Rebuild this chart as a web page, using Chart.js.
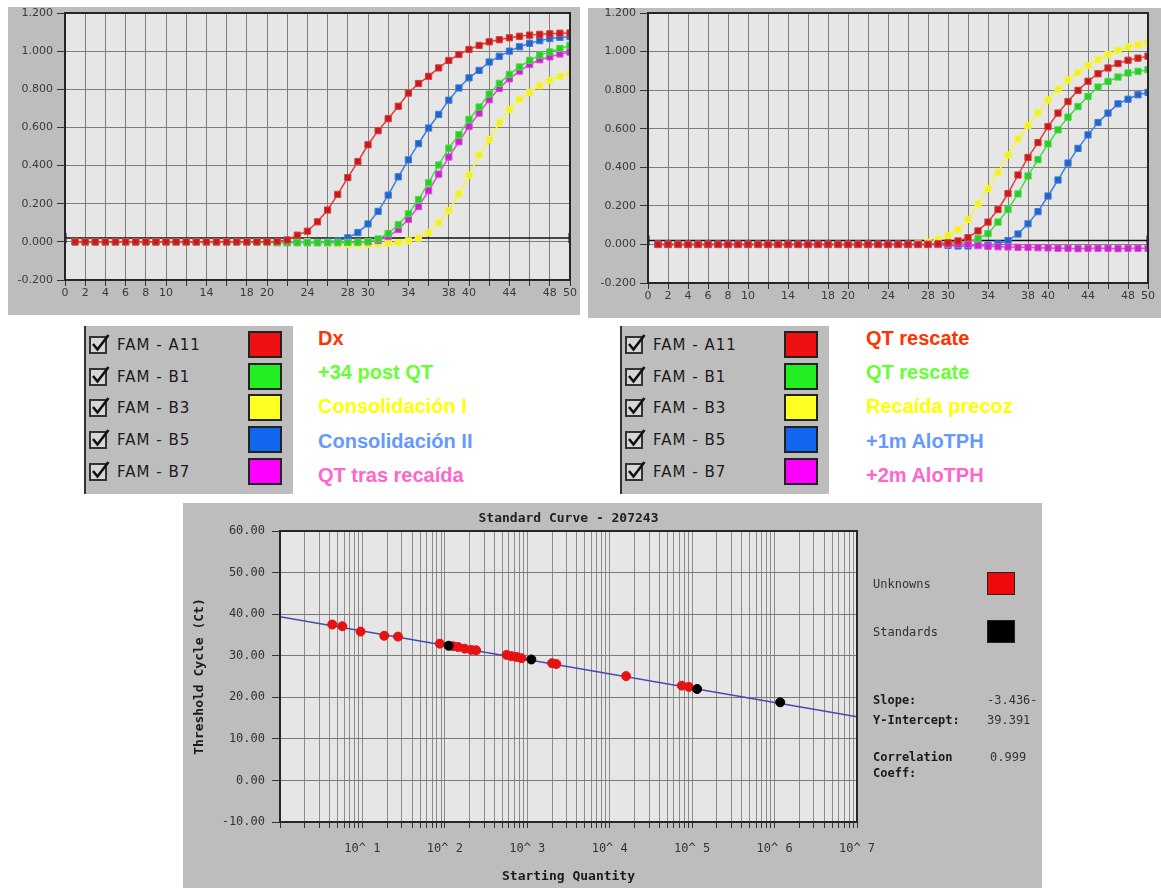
<!DOCTYPE html>
<html>
<head>
<meta charset="utf-8">
<script src="https://cdn.jsdelivr.net/npm/chart.js@4.4.1/dist/chart.umd.min.js"></script>
<style>
  body { margin: 0; width: 1161px; height: 888px; background: #fff; position: relative; overflow: hidden; }
  canvas { position: absolute; }
  .panel { position: absolute; background: #bdbdbd; }
  .well { position: absolute; font: 15px 'DejaVu Sans', sans-serif; letter-spacing: 1px; color: #1a1a1a; line-height: 18px; white-space: nowrap; }
  .swatch { position: absolute; width: 30px; height: 23px; border: 2px solid #222; }
  .tag { position: absolute; font: bold 20px 'Liberation Sans', Arial, sans-serif; line-height: 24px; white-space: nowrap; }
  .side { position: absolute; font: 12px 'DejaVu Sans Mono', monospace; color: #333; line-height: 14px; white-space: nowrap; }
  .side.b { font-weight: bold; color: #1a1a1a; }
</style>
</head>
<body>
<div class="panel" style="left:8px;top:7px;width:572px;height:308px"></div>
<div class="panel" style="left:588px;top:8px;width:573px;height:310px"></div>
<div class="panel" style="left:183px;top:503px;width:859px;height:385px"></div>
<canvas id="amp1" width="572" height="315" style="left:8px;top:0"></canvas>
<canvas id="amp2" width="573" height="318" style="left:588px;top:0"></canvas>
<canvas id="std" width="859" height="385" style="left:183px;top:503px"></canvas>
<div id="legends"></div>
<script>
// ---- data ----
function cycleLabels() {
  let arr = []
  for (let i = 1; i <= 50; i++) {
    arr.push(i)
  }
  return arr
}
let cycles = cycleLabels()
let cycleTicks = [0, 2, 4, 6, 8, 10, 14, 18, 20, 24, 28, 30, 34, 38, 40, 44, 48, 50]
let rfuTicks = [-0.2, 0, 0.2, 0.4, 0.6, 0.8, 1.0, 1.2]

// left plot (cycles 1..50)
let dx = [0, 0, 0, 0, 0, 0, 0, 0, 0, 0,
  0, 0, 0, 0, 0, 0, 0, 0, 0, 0,
  0.002, 0.01, 0.035, 0.056, 0.105, 0.167, 0.249, 0.337, 0.421, 0.509,
  0.583, 0.646, 0.711, 0.78, 0.83, 0.868, 0.912, 0.951, 0.982, 1.009,
  1.03, 1.049, 1.06, 1.07, 1.078, 1.084, 1.088, 1.091, 1.094, 1.095]
let post34 = [0, 0, 0, 0, 0, 0, 0, 0, 0, 0,
  0, 0, 0, 0, 0, 0, 0, 0, 0, -0.003,
  -0.004, -0.004, -0.004, -0.004, -0.004, -0.004, -0.003, -0.003, -0.002, 0.002,
  0.015, 0.044, 0.09, 0.148, 0.222, 0.31, 0.403, 0.491, 0.562, 0.642,
  0.707, 0.775, 0.831, 0.878, 0.917, 0.952, 0.979, 0.996, 1.014, 1.03]
let consol1 = [0, 0, 0, 0, 0, 0, 0, 0, 0, 0,
  0, 0, 0, 0, 0, 0, 0, 0, 0, 0,
  0, 0, 0, 0, -0.005, -0.008, -0.01, -0.012, -0.012, -0.012,
  -0.01, -0.008, -0.004, 0.005, 0.02, 0.05, 0.1, 0.163, 0.252, 0.35,
  0.456, 0.536, 0.624, 0.695, 0.748, 0.784, 0.819, 0.846, 0.867, 0.885]
let consol2 = [0, 0, 0, 0, 0, 0, 0, 0, 0, 0,
  0, 0, 0, 0, 0, 0, 0, 0, 0, 0,
  0, 0, 0, -0.003, -0.003, 0, 0.005, 0.021, 0.049, 0.094,
  0.16, 0.245, 0.341, 0.43, 0.515, 0.597, 0.668, 0.743, 0.807, 0.86,
  0.899, 0.943, 0.973, 1.0, 1.023, 1.041, 1.055, 1.066, 1.072, 1.076]
let qtRelapse = [0, 0, 0, 0, 0, 0, 0, 0, 0, 0,
  0, 0, 0, 0, 0, 0, 0, 0, 0, 0,
  -0.004, -0.004, -0.004, -0.004, -0.004, -0.004, -0.004, -0.003, -0.002, 0.0,
  0.008, 0.028, 0.065, 0.118, 0.185, 0.268, 0.355, 0.445, 0.525, 0.605,
  0.675, 0.745, 0.805, 0.855, 0.895, 0.93, 0.955, 0.97, 0.985, 0.995]
let threshold1 = 0.02

// right plot (cycles 1..50)
let rescueA = [0, 0, 0, 0, 0, 0, 0, 0, 0, 0,
  0, 0, 0, 0, 0, 0, 0, 0, 0, 0,
  0, 0, 0, 0, 0, 0, 0, 0, 0.003, 0.008,
  0.018, 0.035, 0.07, 0.116, 0.181, 0.264, 0.36, 0.451, 0.528, 0.611,
  0.681, 0.741, 0.799, 0.846, 0.885, 0.915, 0.938, 0.955, 0.966, 0.976]
let rescueB = [0, 0, 0, 0, 0, 0, 0, 0, 0, 0,
  0, 0, 0, 0, 0, 0, 0, 0, 0, 0,
  0, 0, 0, 0, 0, 0, 0, 0, 0, 0,
  0.004, 0.012, 0.03, 0.056, 0.116, 0.181, 0.262, 0.355, 0.44, 0.521,
  0.594, 0.66, 0.715, 0.767, 0.816, 0.845, 0.868, 0.889, 0.897, 0.906]
let earlyRelapse = [0, 0, 0, 0, 0, 0, 0, 0, 0, 0,
  0, 0, 0, 0, 0, 0, 0, 0, 0, 0,
  0, 0, 0, 0, 0, 0, 0.005, 0.012, 0.025, 0.047,
  0.076, 0.13, 0.21, 0.29, 0.374, 0.464, 0.548, 0.618, 0.683, 0.749,
  0.804, 0.853, 0.892, 0.927, 0.958, 0.984, 1.007, 1.024, 1.036, 1.045]
let alo1m = [0, 0, 0, 0, 0, 0, 0, 0, 0, 0,
  0, 0, 0, 0, 0, 0, 0, 0, 0, 0,
  0, 0, 0, 0, 0, 0, 0, 0, 0, -0.005,
  -0.008, -0.008, -0.006, -0.004, 0.002, 0.02, 0.054, 0.107, 0.17, 0.251,
  0.334, 0.422, 0.498, 0.568, 0.632, 0.681, 0.729, 0.753, 0.776, 0.788]
let alo2m = [0, 0, 0, 0, 0, 0, 0, 0, 0, 0,
  0, 0, 0, 0, 0, 0, 0, 0, 0, 0,
  0, 0, 0, 0, 0, 0, 0, 0, 0, 0,
  0, 0, -0.005, -0.01, -0.012, -0.013, -0.015, -0.015, -0.017, -0.018,
  -0.02, -0.02, -0.022, -0.02, -0.02, -0.02, -0.022, -0.02, -0.02, -0.02]
let threshold2 = 0.02

// standard curve
let unknownQty = [4.3, 5.7, 9.5, 18.4, 27, 87, 125, 145, 174, 209, 240, 560, 640, 740, 850, 2000, 2250, 15800, 75000, 91000]
let unknownCt = [37.5, 37.1, 35.8, 34.8, 34.6, 32.9, 32.3, 32.1, 31.7, 31.4, 31.3, 30.2, 29.9, 29.7, 29.4, 28.2, 28.0, 25.1, 22.8, 22.5]
let standardQty = [111, 1120, 115000, 1170000]
let standardCt = [32.4, 29.1, 22.0, 18.8]
let fitQty = [1, 10000000]
let fitCt = [39.39, 15.34]
let ctTicks = [-10, 0, 10, 20, 30, 40, 50, 60]
let decadeValues = [10, 100, 1000, 10000, 100000, 1000000, 10000000]
let decadeLabels = ['10^ 1', '10^ 2', '10^ 3', '10^ 4', '10^ 5', '10^ 6', '10^ 7']
let chartTitle = 'Standard Curve - 207243'

// legends
let wells = ['FAM - A11', 'FAM - B1', 'FAM - B3', 'FAM - B5', 'FAM - B7']
let wellColors = ['#ee1111', '#22ee22', '#ffff22', '#1166ee', '#ff00ff']
let tags1 = ['Dx', '+34 post QT', 'Consolidación I', 'Consolidación II', 'QT tras recaída']
let tags2 = ['QT rescate', 'QT rescate', 'Recaída precoz', '+1m AloTPH', '+2m AloTPH']
let tagColors = ['#ff3300', '#66ff33', '#ffff00', '#6699ff', '#ff66cc']
let stats = [['Slope:', '-3.436-'], ['Y-Intercept:', '39.391'], ['Correlation', '0.999']]

// ---- helpers ----
let red = { line: '#e23b3b', point: '#c41c1c' }
let green = { line: '#44dd44', point: '#2ccb2c' }
let yellow = { line: '#f6f640', point: '#efef2a' }
let blue = { line: '#3d80e0', point: '#2265c8' }
let magenta = { line: '#e048e0', point: '#c824c8' }

function series(label, values, c) {
  return {
    label: label,
    data: values.map((v, i) => ({ x: cycles[i], y: v })),
    borderColor: c.line,
    backgroundColor: c.point,
    pointBackgroundColor: c.point,
    pointBorderColor: c.line,
    pointStyle: 'rect',
    pointRadius: 4.4,
    pointBorderWidth: 1,
    borderWidth: 1.5,
  }
}

function thresholdLine(t) {
  return {
    label: 'threshold',
    data: [{ x: 0, y: t }, { x: 50, y: t }],
    borderColor: '#111',
    borderWidth: 1.5,
    pointStyle: 'line',
    pointRotation: 90,
    pointRadius: 5,
    pointBorderWidth: 3,
    pointBorderColor: '#111',
  }
}

let plotFrame = {
  id: 'plotFrame',
  beforeDraw(chart) {
    let a = chart.chartArea
    let ctx = chart.ctx
    ctx.save()
    ctx.fillStyle = '#e6e6e6'
    ctx.fillRect(a.left, a.top, a.right - a.left, a.bottom - a.top)
    ctx.restore()
  },
  afterDraw(chart) {
    let a = chart.chartArea
    let ctx = chart.ctx
    ctx.save()
    ctx.strokeStyle = '#262626'
    ctx.lineWidth = 2
    ctx.strokeRect(a.left, a.top, a.right - a.left, a.bottom - a.top)
    ctx.restore()
  },
}

let tickFont = { family: 'DejaVu Sans', size: 11 }

function ampConfig(sets, yWidth, padRight) {
  return {
    type: 'line',
    data: { datasets: sets },
    options: {
      responsive: false,
      animation: false,
      devicePixelRatio: 1,
      layout: { padding: { top: 13, right: padRight, left: 0, bottom: 0 } },
      plugins: { legend: { display: false }, tooltip: { enabled: false } },
      scales: {
        x: {
          type: 'linear',
          min: 0,
          max: 50,
          afterBuildTicks: (s) => {
            let t = []
            for (let v = 0; v <= 50; v += 2) t.push({ value: v })
            s.ticks = t
          },
          afterFit: (s) => { s.height = 35 },
          ticks: {
            autoSkip: false,
            maxRotation: 0,
            padding: 1,
            color: '#3a3a3a',
            font: tickFont,
            callback: (v) => (cycleTicks.includes(v) ? String(v) : ''),
          },
          grid: { color: '#7e7e7e', tickColor: '#333', tickLength: 6 },
          border: { color: '#262626', width: 2 },
        },
        y: {
          min: -0.2,
          max: 1.2,
          afterBuildTicks: (s) => { s.ticks = rfuTicks.map((v) => ({ value: v })) },
          afterFit: (s) => { s.width = yWidth },
          ticks: {
            padding: 4,
            color: '#3a3a3a',
            font: tickFont,
            callback: (v) => v.toFixed(3),
          },
          grid: { color: '#7e7e7e', tickColor: '#333', tickLength: 8 },
          border: { color: '#262626', width: 2 },
        },
      },
    },
    plugins: [plotFrame],
  }
}

new Chart(document.getElementById('amp1'), ampConfig([
  series('Dx', dx, red),
  series('+34 post QT', post34, green),
  series('QT tras recaída', qtRelapse, magenta),
  series('Consolidación II', consol2, blue),
  series('Consolidación I', consol1, yellow),
  thresholdLine(threshold1),
], 57, 10))

new Chart(document.getElementById('amp2'), ampConfig([
  series('QT rescate', rescueA, red),
  series('+2m AloTPH', alo2m, magenta),
  series('+1m AloTPH', alo1m, blue),
  series('QT rescate', rescueB, green),
  series('Recaída precoz', earlyRelapse, yellow),
  thresholdLine(threshold2),
], 60, 13))

// ---- standard curve ----
let stdTitle = {
  id: 'stdTitle',
  afterDraw(chart) {
    let a = chart.chartArea
    let ctx = chart.ctx
    ctx.save()
    ctx.font = "bold 13px 'DejaVu Sans Mono'"
    ctx.fillStyle = '#222'
    ctx.textAlign = 'center'
    ctx.textBaseline = 'middle'
    ctx.fillText(chartTitle, (a.left + a.right) / 2, 16)
    ctx.restore()
  },
}

let monoFont = { family: 'DejaVu Sans Mono', size: 12 }

new Chart(document.getElementById('std'), {
  type: 'scatter',
  data: {
    datasets: [
      {
        label: 'Standards',
        data: standardQty.map((q, i) => ({ x: q, y: standardCt[i] })),
        backgroundColor: '#000',
        borderColor: '#000',
        pointRadius: 4.5,
      },
      {
        label: 'Unknowns',
        data: unknownQty.map((q, i) => ({ x: q, y: unknownCt[i] })),
        backgroundColor: '#e51212',
        borderColor: '#e51212',
        pointRadius: 4.5,
      },
      {
        label: 'fit',
        data: fitQty.map((q, i) => ({ x: q, y: fitCt[i] })),
        showLine: true,
        borderColor: '#4848b4',
        borderWidth: 1.5,
        pointRadius: 0,
      },
    ],
  },
  options: {
    responsive: false,
    animation: false,
    devicePixelRatio: 1,
    layout: { padding: { top: 28, right: 185, left: 0, bottom: 0 } },
    plugins: { legend: { display: false }, tooltip: { enabled: false } },
    scales: {
      x: {
        type: 'logarithmic',
        min: 1,
        max: 10000000,
        afterBuildTicks: (s) => {
          let t = []
          for (let e = 0; e < 7; e++) {
            for (let m = 1; m <= 9; m++) t.push({ value: m * Math.pow(10, e) })
          }
          t.push({ value: 10000000 })
          s.ticks = t
        },
        afterFit: (s) => { s.height = 66 },
        ticks: {
          autoSkip: false,
          maxRotation: 0,
          padding: 14,
          color: '#333',
          font: monoFont,
          callback: (v) => {
            let k = decadeValues.indexOf(v)
            return k >= 0 ? decadeLabels[k] : ''
          },
        },
        grid: { color: '#8c8c8c', tickColor: '#333', tickLength: 6 },
        border: { color: '#111', width: 2 },
        title: {
          display: true,
          text: 'Starting Quantity',
          color: '#1a1a1a',
          font: { family: 'DejaVu Sans Mono', size: 13, weight: 'bold' },
          padding: { top: 0, bottom: 4 },
        },
      },
      y: {
        min: -10,
        max: 60,
        afterBuildTicks: (s) => { s.ticks = ctTicks.map((v) => ({ value: v })) },
        afterFit: (s) => { s.width = 97 },
        ticks: {
          padding: 7,
          color: '#333',
          font: monoFont,
          callback: (v) => v.toFixed(2),
        },
        grid: { color: '#7a7a7a', tickColor: '#333', tickLength: 8 },
        border: { color: '#111', width: 2 },
        title: {
          display: true,
          text: 'Threshold Cycle (Ct)',
          color: '#1a1a1a',
          font: { family: 'DejaVu Sans Mono', size: 13, weight: 'bold' },
          padding: { top: 9, bottom: 0 },
        },
      },
    },
  },
  plugins: [plotFrame, stdTitle],
})

// ---- html legends ----
let host = document.getElementById('legends')
function add(cls, css, text) {
  let d = document.createElement('div')
  d.className = cls
  d.style.cssText = css
  if (text !== undefined) d.textContent = text
  host.appendChild(d)
  return d
}
let checkSvg = '<svg width="22" height="22" viewBox="0 0 22 22"><rect x="1" y="4" width="16" height="16" fill="#d6d6d6" stroke="#333" stroke-width="2"/><path d="M4 11 L8.5 16.5 L19.5 2" fill="none" stroke="#111" stroke-width="2.6"/></svg>'

function wellPanel(left, tags, tagLeft) {
  add('panel', 'left:' + left + 'px;top:326px;width:209px;height:168px;border-left:2px solid #333;box-sizing:border-box')
  wells.forEach((w, i) => {
    let y = 345 + i * 31.7
    let cb = add('', 'position:absolute;left:' + (left + 5) + 'px;top:' + (y - 12) + 'px;width:22px;height:22px')
    cb.innerHTML = checkSvg
    add('well', 'left:' + (left + 33) + 'px;top:' + (y - 9) + 'px', w)
    add('swatch', 'left:' + (left + 164) + 'px;top:' + (y - 14) + 'px;background:' + wellColors[i])
  })
  tags.forEach((t, i) => {
    add('tag', 'left:' + tagLeft + 'px;top:' + (338 + i * 34.2 - 12) + 'px;color:' + tagColors[i], t)
  })
}
wellPanel(84, tags1, 318)
wellPanel(620, tags2, 866)

add('side', 'left:873px;top:577px', 'Unknowns')
add('swatch', 'left:987px;top:572px;width:26px;height:21px;border-width:1px;background:#ee0a0a')
add('side', 'left:873px;top:625px', 'Standards')
add('swatch', 'left:987px;top:620px;width:26px;height:21px;border-width:1px;background:#000')
add('side b', 'left:873px;top:693px', stats[0][0])
add('side', 'left:987px;top:693px', stats[0][1])
add('side b', 'left:873px;top:713px', stats[1][0])
add('side', 'left:987px;top:713px', stats[1][1])
add('side b', 'left:873px;top:750px', stats[2][0])
add('side b', 'left:873px;top:766px', 'Coeff:')
add('side', 'left:990px;top:750px', stats[2][1])
</script>
</body>
</html>
